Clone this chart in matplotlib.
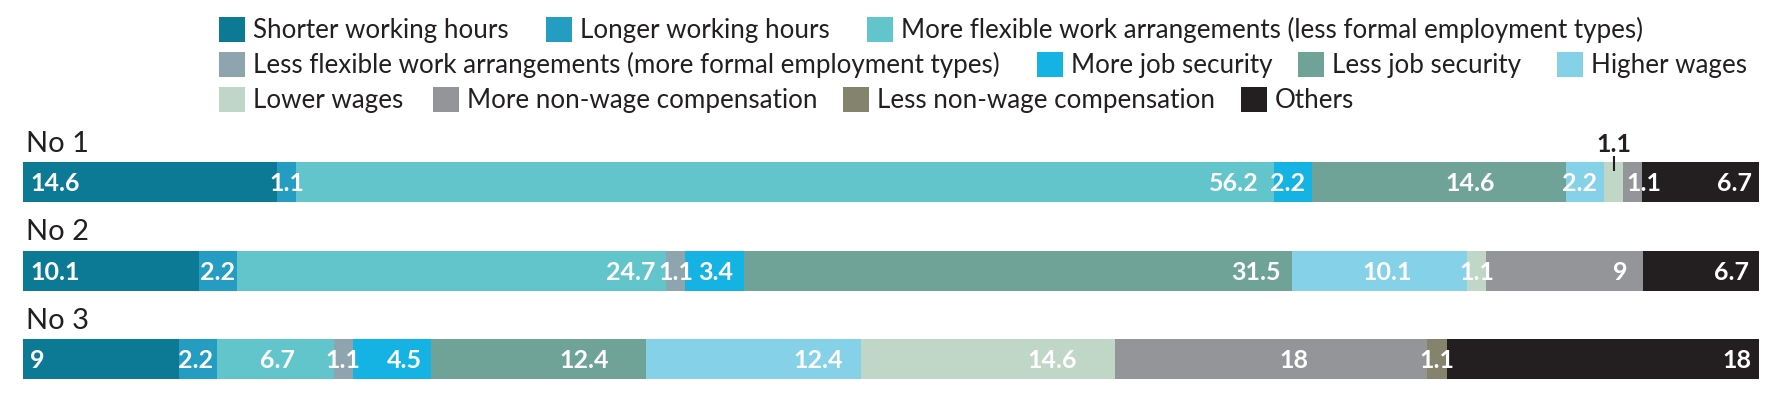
import matplotlib
matplotlib.use("Agg")
import numpy as np
import matplotlib.pyplot as plt
from matplotlib.patches import Rectangle

# categories, in stacking order
categories = [
    "Shorter working hours",
    "Longer working hours",
    "More flexible work arrangements (less formal employment types)",
    "Less flexible work arrangements (more formal employment types)",
    "More job security",
    "Less job security",
    "Higher wages",
    "Lower wages",
    "More non-wage compensation",
    "Less non-wage compensation",
    "Others",
]
colors = ["#0c7a95", "#259cc1", "#62c5cc", "#8ea4ae", "#14b3e3", "#6fa398",
          "#84d1e8", "#c0d6c6", "#939598", "#84846c", "#231f20"]

rows = ["No 1", "No 2", "No 3"]
no1 = [14.6, 1.1, 56.2, 0, 2.2, 14.6, 2.2, 1.1, 1.1, 0, 6.7]
no2 = [10.1, 2.2, 24.7, 1.1, 3.4, 31.5, 10.1, 1.1, 9, 0, 6.7]
no3 = [9, 2.2, 6.7, 1.1, 4.5, 12.4, 12.4, 14.6, 18, 1.1, 18]
values = [no1, no2, no3]

# how each value label sits: 'l' left, 'c' centred, number = gap to right end (px)
label_pad = [
    ["l", "c", 15, None, 7, 71, 7, "above", -19, None, 7],
    ["l", 2, 10, "c", 11, 11, 55, "c", 15, None, 10],
    ["l", 4, 39, "c", 9, 37, 19, 38, 119, "c", 8],
]

# legend layout: (category index, swatch left px) per row
legend_rows = [
    [(0, 219), (1, 546), (2, 867)],
    [(3, 219), (4, 1037), (5, 1298), (6, 1557)],
    [(7, 219), (8, 433), (9, 843), (10, 1241)],
]
legend_y = [17, 52, 87]

W, H = 1782, 396
plt.rcParams["font.family"] = ["Lato", "DejaVu Sans"]

fig = plt.figure(figsize=(W / 100, H / 100), dpi=100)
ax = fig.add_axes([23 / W, 0, (1759 - 23) / W, (H - 130) / H])
step = 88.5  # px between bar centres, first centre at 182 px
ax.set_ylim((H - 182) / step, (130 - 182) / step)
ax.set_xlim(0, 100)
ax.axis("off")

for i, row in enumerate(values):
    total = sum(row)
    shares = np.array(row) / total * 100
    lefts = np.concatenate([[0], np.cumsum(shares)[:-1]])
    ax.barh([i] * len(shares), shares, left=lefts, height=40 / step,
            color=colors, linewidth=0)
    ax.annotate(rows[i], xy=(0, i), xytext=(3, 30), textcoords="offset pixels",
                ha="left", va="baseline", fontsize=21, color="#231f20")
    for j, v in enumerate(row):
        if v == 0:
            continue
        txt = "%g" % v
        mode = label_pad[i][j]
        kw = dict(textcoords="offset pixels", va="baseline", fontsize=18,
                  fontweight="bold", color="white")
        x0, x1 = lefts[j], lefts[j] + shares[j]
        if mode == "l":
            ax.annotate(txt, xy=(x0, i), xytext=(7, -9), ha="left", **kw)
        elif mode == "c":
            ax.annotate(txt, xy=((x0 + x1) / 2, i), xytext=(0, -9), ha="center", **kw)
        elif mode == "above":
            kw["color"] = "#231f20"
            mid = (x0 + x1) / 2
            ax.annotate(txt, xy=(mid, i), xytext=(0, 30), ha="center", **kw)
            ax.plot([mid, mid], [i - 26 / step, i - 11 / step], color="#231f20",
                    linewidth=1.5, solid_capstyle="butt")
        else:
            ax.annotate(txt, xy=(x1, i), xytext=(-mode, -9), ha="right", **kw)

for r, entries in enumerate(legend_rows):
    top = legend_y[r]
    for k, x in entries:
        fig.patches.append(Rectangle((x / W, 1 - (top + 25) / H), 26 / W, 25 / H,
                                     transform=fig.transFigure, color=colors[k],
                                     linewidth=0))
        fig.text((x + 34) / W, 1 - (top + 21) / H, categories[k], ha="left",
                 va="baseline", fontsize=18.7, color="#231f20")

fig.savefig("out.png", dpi=100)
